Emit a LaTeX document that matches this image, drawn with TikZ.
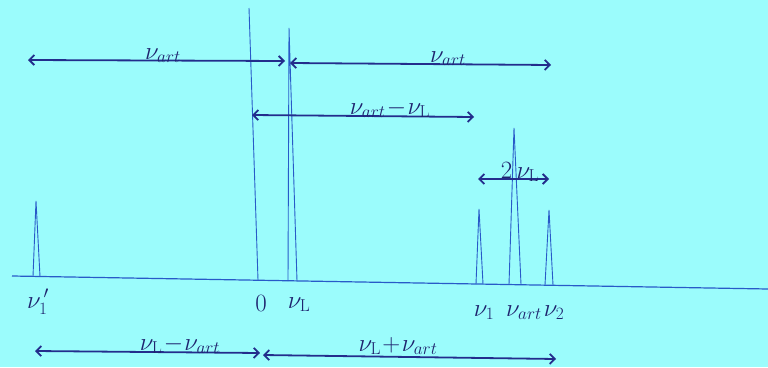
\documentclass[tikz,border=0pt]{standalone}
\usetikzlibrary{arrows.meta}
\definecolor{bg}{RGB}{155,252,252}
\definecolor{arr}{RGB}{35,45,140}
\definecolor{pk}{RGB}{40,90,200}
\definecolor{txt}{RGB}{30,35,110}
\begin{document}
\begin{tikzpicture}[x=1pt,y=-1pt,
 dimarrow/.style={arr, line width=1.8pt, {Straight Barb[length=5pt,width=10pt]}-{Straight Barb[length=5pt,width=10pt]}},
 peak/.style={pk, line width=0.9pt, line join=miter},
 lbl/.style={txt, font=\fontsize{24}{28}\selectfont, inner sep=0pt, anchor=base},
]
\fill[bg] (0,0) rectangle (768,367);
\useasboundingbox (0,0) rectangle (768,367);
% axis
\draw[pk, line width=1.2pt] (12,276) coordinate (ax0) -- (768,289) coordinate (ax1);
% peaks
\draw[peak] (33,276.5) -- (36,201) coordinate (p1p) -- (40,276.5);
\draw[peak] (249,8) coordinate (pz) -- (258,280);
\draw[peak] (288,281) -- (289,28) coordinate (pL) -- (297,281);
\draw[peak] (476,284) -- (479,209) coordinate (p1) -- (483,284);
\draw[peak] (509,284.5) -- (514,128) coordinate (pa) -- (521,284.5);
\draw[peak] (545,285) -- (549,210) coordinate (p2) -- (553,285);
% arrow endpoints
\coordinate (a1l) at (28,60);  \coordinate (a1r) at (285,61);
\coordinate (a2l) at (290,63); \coordinate (a2r) at (551,65);
\coordinate (a3l) at (252,115); \coordinate (a3r) at (474,117);
\coordinate (a4l) at (478,179); \coordinate (a4r) at (549,179);
\coordinate (a5l) at (35,351); \coordinate (a5r) at (260,353);
\coordinate (a6l) at (263,355); \coordinate (a6r) at (556,359);
\draw[dimarrow] (a1l) -- (a1r);
\draw[dimarrow] (a2l) -- (a2r);
\draw[dimarrow] (a3l) -- (a3r);
\draw[dimarrow] (a4l) -- (a4r);
\draw[dimarrow] (a5l) -- (a5r);
\draw[dimarrow] (a6l) -- (a6r);
% arrow labels
\node[lbl] (t1) at (163,59) {$\nu_{art}$};
\node[lbl] (t2) at (448,62) {$\nu_{art}$};
\node[lbl] (t3) at (390,114) {$\nu_{art}\!-\!\nu_{\mathrm{L}}$};
\node[lbl] (t4) at (520,178) {$2\,\nu_{\mathrm{L}}$};
\node[lbl] (t5) at (180,350) {$\nu_{\mathrm{L}}\!-\!\nu_{art}$};
\node[lbl] (t6) at (398,351) {$\nu_{\mathrm{L}}\!+\!\nu_{art}$};
% axis labels
\node[lbl] (l1p) at (38,308) {$\nu_1^{\,\prime}$};
\node[lbl] (l0) at (261,311) {$0$};
\node[lbl] (lL) at (299,308) {$\nu_{\mathrm{L}}$};
\node[lbl] (l1) at (484,316) {$\nu_1$};
\node[lbl] (la) at (524,316) {$\nu_{art}$};
\node[lbl] (l2) at (554,316) {$\nu_2$};
\end{tikzpicture}
\end{document}
